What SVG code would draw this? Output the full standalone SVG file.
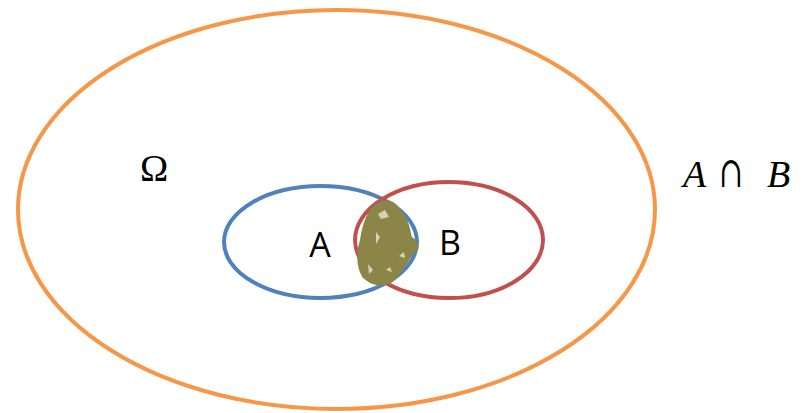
<svg xmlns="http://www.w3.org/2000/svg" width="807" height="413" viewBox="0 0 807 413">
<style>
.ring{fill:none;stroke-width:4}
.lbl{font-family:"Open Sans","Liberation Sans",sans-serif;font-size:34px;fill:#000}
.math{font-family:"Liberation Serif","DejaVu Serif",serif;font-size:38px;fill:#000}
.cap{font-family:"DejaVu Serif",serif;font-size:36px;fill:#000}
.scr{fill:none;stroke:#8C8548;stroke-width:4;stroke-linecap:round;stroke-linejoin:round}
</style>
<rect width="807" height="413" fill="#fff"/>
<g id="omega">
<ellipse class="ring" cx="336.5" cy="209.5" rx="318.5" ry="199.5" stroke="#F79646"/>
<text class="math" x="154" y="181" text-anchor="middle">Ω</text>
</g>
<g id="setA">
<ellipse class="ring" cx="320.5" cy="242" rx="96.5" ry="56" stroke="#4F81BD"/>
<text class="lbl" x="320" y="257" text-anchor="middle">A</text>
</g>
<g id="setB">
<ellipse class="ring" cx="449" cy="240" rx="94" ry="58" stroke="#C0504D"/>
<text class="lbl" x="450" y="255" text-anchor="middle">B</text>
</g>
<g id="intersection">
<path d="M378,205 C386,200 394,202 398,210 C406,218 408,228 410,238 C416,242 420,248 412,252 C406,262 400,272 392,280 C384,286 372,284 364,276 C358,266 358,252 362,240 C364,226 368,212 378,205 Z" fill="#8C8548"/>
<path class="scr" d="M378,205 C386,200 394,202 398,210 C406,218 408,228 410,238 C416,242 420,248 412,252 C406,262 400,272 392,280 C384,286 372,284 364,276 C358,266 358,252 362,240 C364,226 368,212 378,205"/>
<path class="scr" d="M372,218 C380,210 392,214 396,226 M366,262 C374,254 388,266 384,278 M372,232 C384,226 396,238 392,252 M380,204 C372,214 370,240 376,262 M396,212 C402,236 398,262 388,282 M364,248 C380,244 400,246 414,250"/>
<path d="M378,214 l7,-4 l4,7 l-8,2 Z M368,264 l5,6 l-4,4 Z M399,256 l5,-4 l1,6 Z M376,232 l4,5 l-4,7 Z M386,270 l4,-3 l2,5 Z" fill="#D4D1BC"/>
</g>
<g id="label-AcapB">
<text class="math" x="683" y="187" font-style="italic">A</text>
<text class="cap" transform="translate(731,187) scale(0.8,1.2)" text-anchor="middle">∩</text>
<text class="math" x="767" y="187" font-style="italic">B</text>
</g>
</svg>
